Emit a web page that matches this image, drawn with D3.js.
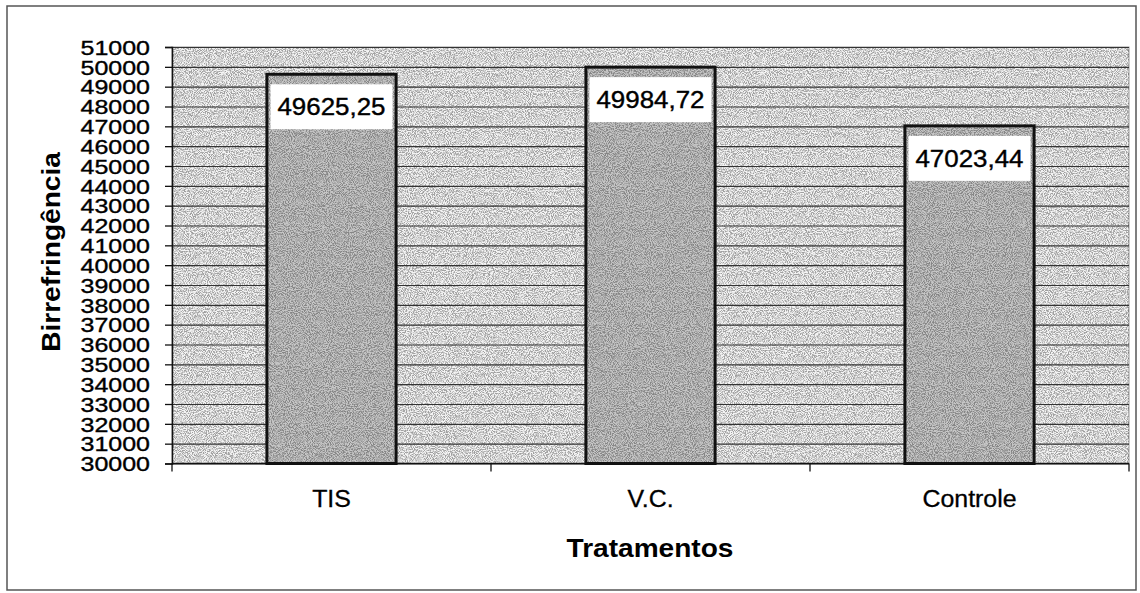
<!DOCTYPE html>
<html>
<head>
<meta charset="utf-8">
<script src="https://cdn.jsdelivr.net/npm/d3@7"></script>
<style>
  html, body { margin: 0; padding: 0; background: #fff; }
  svg { display: block; font-family: "Liberation Sans", Arial, sans-serif; }
</style>
</head>
<body>
<svg id="chart" width="1140" height="593"></svg>
<script>
// Birefringence by treatment
const categories = ["TIS", "V.C.", "Controle"];
const values = [49625.25, 49984.72, 47023.44];
const yDomain = [30000, 51000];
const yTickValues = [30000, 31000, 32000, 33000, 34000, 35000, 36000, 37000, 38000, 39000, 40000,
                     41000, 42000, 43000, 44000, 45000, 46000, 47000, 48000, 49000, 50000, 51000];
const yTitle = "Birrefringência";
const xTitle = "Tratamentos";

const svg = d3.select("#chart");
const plot = { left: 172, right: 1129, top: 47, bottom: 463.5 };

const ptBR = d3.formatLocale({ decimal: ",", thousands: ".", grouping: [3], currency: ["R$", ""] });
const fmtValue = ptBR.format(".2f");

// grain filter for the stippled fills
const defs = svg.append("defs");
const grain = defs.append("filter").attr("id", "grain")
  .attr("x", 0).attr("y", 0).attr("width", 1).attr("height", 1)
  .attr("color-interpolation-filters", "sRGB");
grain.append("feTurbulence").attr("type", "fractalNoise").attr("baseFrequency", 0.95)
  .attr("numOctaves", 2).attr("seed", 7).attr("result", "n");
grain.append("feColorMatrix").attr("in", "n").attr("type", "matrix")
  .attr("values", "0 0 0 0 0  0 0 0 0 0  0 0 0 0 0  4 0 0 0 -1.6").attr("result", "dots");
grain.append("feComposite").attr("in", "dots").attr("in2", "SourceGraphic").attr("operator", "in");

// outer frame
svg.append("rect").attr("x", 7).attr("y", 6).attr("width", 1129).attr("height", 584)
  .attr("fill", "none").attr("stroke", "#555").attr("stroke-width", 1.5);

const x = d3.scaleBand().domain(categories).range([plot.left, plot.right])
  .paddingInner(0.595).paddingOuter(0.2975);
const y = d3.scaleLinear().domain(yDomain).range([plot.bottom, plot.top]);

// plot area background
svg.append("rect").attr("x", plot.left).attr("y", plot.top)
  .attr("width", plot.right - plot.left).attr("height", plot.bottom - plot.top)
  .attr("fill", "#f4f4f4").attr("stroke", "#999").attr("stroke-width", 1);
svg.append("rect").attr("x", plot.left).attr("y", plot.top)
  .attr("width", plot.right - plot.left).attr("height", plot.bottom - plot.top)
  .attr("fill", "#000").attr("opacity", 0.34).attr("filter", "url(#grain)");

// horizontal gridlines
svg.append("g")
  .attr("transform", `translate(${plot.left},0)`)
  .call(d3.axisLeft(y).tickValues(yTickValues).tickSize(-(plot.right - plot.left)).tickFormat(""))
  .call(g => g.select(".domain").remove())
  .call(g => g.selectAll("line").attr("stroke", "#333").attr("stroke-width", 1.2));

// bars
const bars = svg.append("g");
bars.selectAll("rect.base").data(values).join("rect").attr("class", "base")
  .attr("x", (d, i) => x(categories[i])).attr("y", d => y(d))
  .attr("width", x.bandwidth()).attr("height", d => y(yDomain[0]) - y(d))
  .attr("fill", "#c6c6c6");
bars.selectAll("rect.grain").data(values).join("rect").attr("class", "grain")
  .attr("x", (d, i) => x(categories[i])).attr("y", d => y(d))
  .attr("width", x.bandwidth()).attr("height", d => y(yDomain[0]) - y(d))
  .attr("fill", "#000").attr("opacity", 0.32).attr("filter", "url(#grain)");
bars.selectAll("rect.edge").data(values).join("rect").attr("class", "edge")
  .attr("x", (d, i) => x(categories[i])).attr("y", d => y(d))
  .attr("width", x.bandwidth()).attr("height", d => y(yDomain[0]) - y(d))
  .attr("fill", "none").attr("stroke", "#111").attr("stroke-width", 3);

// value labels
const boxW = 122, boxH = 45;
const labels = svg.append("g");
labels.selectAll("rect").data(values).join("rect")
  .attr("x", (d, i) => x(categories[i]) + x.bandwidth() / 2 - boxW / 2)
  .attr("y", d => y(d) + 10).attr("width", boxW).attr("height", boxH)
  .attr("fill", "#fff");
labels.selectAll("text").data(values).join("text")
  .attr("transform", (d, i) => `translate(${x(categories[i]) + x.bandwidth() / 2},${y(d) + 10 + boxH / 2}) scale(1.08,1)`)
  .attr("text-anchor", "middle").attr("dy", "0.36em")
  .attr("font-size", 24).attr("fill", "#000").attr("stroke", "#000").attr("stroke-width", 0.4)
  .text(d => fmtValue(d));

// y axis
const yAxis = svg.append("g").attr("transform", `translate(${plot.left},0)`)
  .call(d3.axisLeft(y).tickValues(yTickValues).tickSize(7).tickFormat(d3.format("d")));
yAxis.select(".domain").attr("stroke", "#111").attr("stroke-width", 1.5);
yAxis.selectAll(".tick line").attr("stroke", "#111").attr("stroke-width", 1.3);
yAxis.selectAll(".tick text")
  .attr("x", -17.6).attr("dy", "0.36em").attr("transform", "scale(1.25,1)")
  .attr("font-size", 20).attr("fill", "#000").attr("stroke", "#000").attr("stroke-width", 0.35)
  .attr("font-family", "Liberation Sans, Arial, sans-serif");

// x axis: category boundaries as ticks
const xAxis = svg.append("g").attr("transform", `translate(0,${plot.bottom})`)
  .call(d3.axisBottom(x).tickSize(0).tickPadding(0));
xAxis.select(".domain").attr("stroke", "#111").attr("stroke-width", 1.5)
  .attr("d", `M${plot.left},0H${plot.right}`);
xAxis.selectAll(".tick text").remove();
const bounds = categories.map(c => x(c) - x.step() * x.paddingOuter())
  .concat([plot.right]);
xAxis.selectAll("line.bound").data(bounds).join("line").attr("class", "bound")
  .attr("x1", d => d).attr("x2", d => d).attr("y1", 0).attr("y2", 8)
  .attr("stroke", "#111").attr("stroke-width", 1.3);
xAxis.selectAll("text.cat").data(categories).join("text").attr("class", "cat")
  .attr("transform", d => `translate(${x(d) + x.bandwidth() / 2},43.5) scale(1.06,1)`)
  .attr("text-anchor", "middle").attr("font-size", 23.5).attr("fill", "#000")
  .attr("stroke", "#000").attr("stroke-width", 0.3)
  .text(d => d);

// axis titles
svg.append("text")
  .attr("transform", "translate(60,252) rotate(-90) scale(1.08,1)")
  .attr("text-anchor", "middle").attr("font-size", 26).attr("font-weight", "bold").attr("fill", "#000")
  .text(yTitle);
svg.append("text")
  .attr("transform", "translate(650,557) scale(1.08,1)")
  .attr("text-anchor", "middle").attr("font-size", 26).attr("font-weight", "bold").attr("fill", "#000")
  .text(xTitle);
</script>
</body>
</html>
